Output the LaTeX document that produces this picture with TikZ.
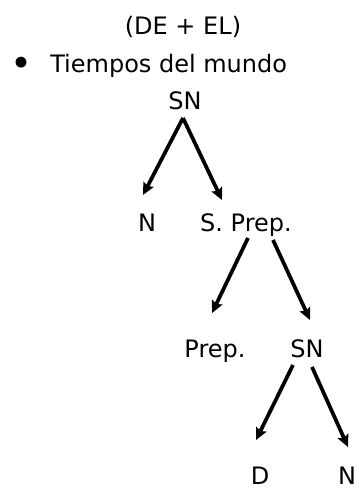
\documentclass[tikz,border=0pt]{standalone}
\usepackage{fontspec}
\setmainfont{DejaVu Sans}
\usetikzlibrary{arrows.meta,calc}
\begin{document}
\begin{tikzpicture}[x=0.75pt,y=-0.75pt,
    every node/.style={inner sep=0pt,font=\fontsize{18}{22}\selectfont},
    arr/.style={line width=2.8pt,-{Stealth[length=9pt,width=8.5pt,inset=1.5pt]}}]
  \useasboundingbox (0,0) rectangle (359,489);
  \draw
    (183,34) node[anchor=base] (title){(DE + EL)}
    (22,76) node[anchor=base,font=\fontsize{28}{30}\selectfont] (dot){•}
    (50,72) node[anchor=base west] (tiempos){Tiempos del mundo}
    (185,109) node[anchor=base] (sn1){SN}
    (147,231) node[anchor=base] (n1){N}
    (246,231) node[anchor=base] (sp){S. Prep.}
    (215,357) node[anchor=base] (prep){Prep.}
    (307,357) node[anchor=base] (sn2){SN}
    (260,484) node[anchor=base] (d){D}
    (347,484) node[anchor=base] (n2){N};
  \begin{scope}[arr]
    \draw ($(sn1.base)+(-2,9)$) to ($(n1.base)+(-4,-36)$);
    \draw ($(sn1.base)+(-2,9)$) to ($(sp.base)+(-24,-31)$);
    \draw ($(sp.base)+(2,7)$) to ($(prep.base)+(-3,-44)$);
    \draw ($(sp.base)+(27,9)$) to ($(sn2.base)+(3,-37)$);
    \draw ($(sn2.base)+(-14,8)$) to ($(d.base)+(-4,-44)$);
    \draw ($(sn2.base)+(5,10)$) to ($(n2.base)+(1,-37)$);
  \end{scope}
\end{tikzpicture}
\end{document}
